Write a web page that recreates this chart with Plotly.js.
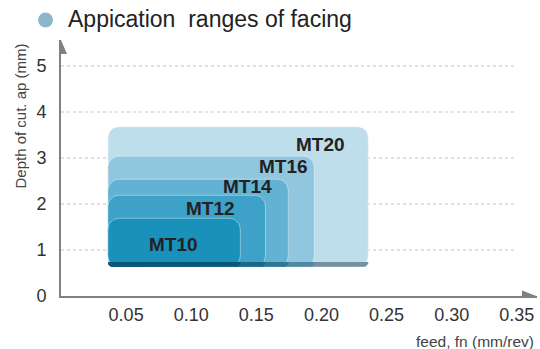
<!DOCTYPE html>
<html>
<head>
<meta charset="utf-8">
<script src="https://cdn.plot.ly/plotly-3.0.1.min.js"></script>
<style>html,body{margin:0;padding:0;background:#fff}#chart{width:540px;height:349px}</style>
</head>
<body>
<div id="chart"></div>
<script>
// ---- data ----
const grades     = ['MT20', 'MT16', 'MT14', 'MT12', 'MT10'];
const feedMin    = [0.036, 0.036, 0.036, 0.036, 0.036];
const feedMax    = [0.236, 0.1945, 0.1745, 0.157, 0.1377];
const depthMin   = [0.63, 0.63, 0.63, 0.63, 0.63];
const depthMax   = [3.68, 3.04, 2.54, 2.19, 1.69];
const labelFeed  = [0.199, 0.1707, 0.143, 0.1147, 0.0863];
const labelDepth = [3.30, 2.815, 2.37, 1.90, 1.11];
const xTicks     = [0.05, 0.10, 0.15, 0.20, 0.25, 0.30, 0.35];
const xTickText  = ['0.05', '0.10', '0.15', '0.20', '0.25', '0.30', '0.35'];
const yTicks     = [0, 1, 2, 3, 4, 5];

// ---- styles ----
const fillColors = ['#b8dbeb', '#8cc4dd', '#5fb0d2', '#3aa0c7', '#1690ba'];
const bandColors = ['#7391a0', '#4f88a3', '#2f7594', '#1b6888', '#0b5878'];
const FONT = 'Liberation Sans, Arial, sans-serif';

const W = 540, H = 349;
const M = {l: 60.5, r: 3, t: 40, b: 53};
const XR = [0, 0.3655], YR = [0, 5.565];
const pw = W - M.l - M.r, ph = H - M.t - M.b;
const xpx = pw / (XR[1] - XR[0]), ypx = ph / (YR[1] - YR[0]);
const px2x = p => (p - M.l) / pw;          // pixel -> paper x
const py2y = p => (H - M.b - p) / ph;      // pixel -> paper y

function roundRect(x0, x1, y0, y1, r, topRound, botRound) {
  const rx = r / xpx, ry = r / ypx, n = 8;
  const xs = [], ys = [];
  function arc(cx, cy, a0, a1) {
    for (let i = 0; i <= n; i++) {
      const a = a0 + (a1 - a0) * i / n;
      xs.push(cx + rx * Math.cos(a)); ys.push(cy + ry * Math.sin(a));
    }
  }
  if (botRound) arc(x0 + rx, y0 + ry, Math.PI, 1.5 * Math.PI); else { xs.push(x0); ys.push(y0); }
  if (botRound) arc(x1 - rx, y0 + ry, 1.5 * Math.PI, 2 * Math.PI); else { xs.push(x1); ys.push(y0); }
  if (topRound) arc(x1 - rx, y1 - ry, 0, 0.5 * Math.PI); else { xs.push(x1); ys.push(y1); }
  if (topRound) arc(x0 + rx, y1 - ry, 0.5 * Math.PI, Math.PI); else { xs.push(x0); ys.push(y1); }
  xs.push(xs[0]); ys.push(ys[0]);
  return {xs, ys};
}

const traces = [];
grades.forEach((g, i) => {
  const rr = roundRect(feedMin[i], feedMax[i], depthMin[i], depthMax[i], 11, true, true);
  traces.push({
    type: 'scatter', mode: 'lines', x: rr.xs, y: rr.ys, fill: 'toself',
    fillcolor: fillColors[i], opacity: 0.9,
    line: {color: 'rgba(255,255,255,0.45)', width: 1},
    hoverinfo: 'skip', showlegend: false, name: g
  });
  const bandTop = depthMin[i] + 5 / ypx;
  const bb = roundRect(feedMin[i], feedMax[i], depthMin[i], bandTop, 5, false, true);
  traces.push({
    type: 'scatter', mode: 'lines', x: bb.xs, y: bb.ys, fill: 'toself',
    fillcolor: bandColors[i], line: {width: 0, color: bandColors[i]},
    hoverinfo: 'skip', showlegend: false
  });
});

const shapes = [];
yTicks.filter(v => v > 0).forEach(v => {
  shapes.push({type: 'line', xref: 'x', yref: 'y', x0: 0, x1: 0.35, y0: v, y1: v,
    layer: 'below', line: {color: '#c4c4c4', width: 1, dash: 'dot'}});
});
// axis arrowheads
shapes.push({type: 'path', xref: 'paper', yref: 'paper', fillcolor: '#808080', line: {width: 0},
  path: `M ${px2x(60.5)} ${py2y(40)} L ${px2x(66.5)} ${py2y(54)} L ${px2x(59.5)} ${py2y(54)} Z`});
shapes.push({type: 'path', xref: 'paper', yref: 'paper', fillcolor: '#808080', line: {width: 0},
  path: `M ${px2x(537.5)} ${py2y(296.5)} L ${px2x(522)} ${py2y(290.5)} L ${px2x(522)} ${py2y(297)} Z`});
// title bullet
shapes.push({type: 'circle', xref: 'paper', yref: 'paper', fillcolor: '#8db6cb', line: {width: 0},
  x0: px2x(37.5), x1: px2x(52.5), y0: py2y(27.5), y1: py2y(12.5)});

const annotations = grades.map((g, i) => ({
  x: labelFeed[i], y: labelDepth[i], xref: 'x', yref: 'y', text: '<b>' + g + '</b>', showarrow: false,
  font: {family: FONT, size: 19, color: '#222', weight: 'bold'},
  xanchor: 'center', yanchor: 'middle'
}));
annotations.push({
  xref: 'paper', yref: 'paper', x: px2x(66), y: py2y(19), xanchor: 'left', yanchor: 'middle',
  text: 'Appication\u00A0 ranges of facing', showarrow: false,
  font: {family: FONT, size: 23, color: '#222'}
});
annotations.push({
  xref: 'paper', yref: 'paper', x: px2x(19), y: py2y(116), xanchor: 'center', yanchor: 'middle',
  text: 'Depth of cut. ap (mm)', textangle: -90, showarrow: false,
  font: {family: FONT, size: 15, color: '#444'}
});
annotations.push({
  xref: 'paper', yref: 'paper', x: px2x(536), y: py2y(341), xanchor: 'right', yanchor: 'middle',
  text: 'feed, fn (mm/rev)', showarrow: false,
  font: {family: FONT, size: 15.5, color: '#444'}
});

const layout = {
  width: W, height: H, margin: M, paper_bgcolor: '#fff', plot_bgcolor: '#fff',
  showlegend: false,
  font: {family: FONT, color: '#333'},
  xaxis: {range: XR, tickvals: xTicks, ticktext: xTickText, showgrid: false, zeroline: false,
    showline: true, linecolor: '#808080', linewidth: 2, ticks: 'outside', ticklen: 1,
    tickcolor: 'rgba(0,0,0,0)', tickfont: {size: 18, color: '#333'}, fixedrange: true},
  yaxis: {range: YR, tickvals: yTicks, showgrid: false, zeroline: false,
    showline: true, linecolor: '#808080', linewidth: 2, ticks: 'outside', ticklen: 9,
    tickcolor: 'rgba(0,0,0,0)', tickfont: {size: 18, color: '#333'}, fixedrange: true},
  shapes, annotations
};

Plotly.newPlot('chart', traces, layout, {displayModeBar: false, staticPlot: true});
</script>
</body>
</html>
